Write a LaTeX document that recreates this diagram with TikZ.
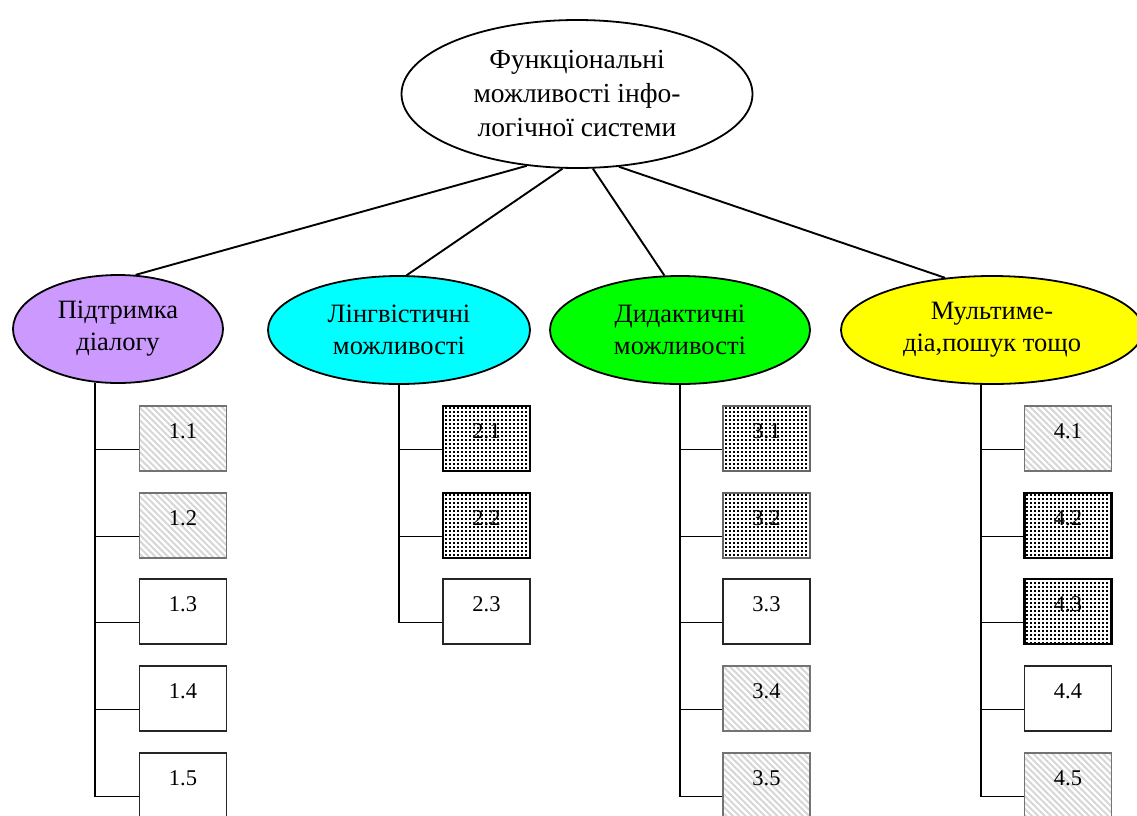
\documentclass[tikz,border=0pt]{standalone}
\usepackage{fontspec}
\setmainfont{Liberation Serif}
\usetikzlibrary{shapes.geometric,patterns.meta}

\definecolor{lilac}{RGB}{204,153,255}
\definecolor{aqua}{RGB}{0,255,255}
\definecolor{lime}{RGB}{0,255,0}
\definecolor{lemon}{RGB}{255,255,0}

% fine grid of square dots for the emphasised leaves
\tikzdeclarepattern{
  name=densedots,
  type=uncolored,
  bottom left={(0pt,0pt)},
  top right={(3.5pt,3.5pt)},
  tile size={(3.5pt,3.5pt)},
  code={\pgfpathrectangle{\pgfpointorigin}{\pgfpoint{2.2pt}{2.2pt}}\pgfusepath{fill}}
}

\begin{document}
\begin{tikzpicture}[x=1pt,y=-1pt,
  conn/.style={line width=1.9pt},
  rootell/.style={ellipse, draw, line width=1.8pt, fill=white,
    minimum width=351pt, minimum height=148pt, inner sep=0pt,
    align=center, font=\fontsize{27.5}{34}\selectfont},
  groupell/.style={ellipse, draw, line width=1.8pt, minimum height=108pt,
    inner sep=0pt, align=center, font=\fontsize{26.5}{32}\selectfont},
  leaf/.style={rectangle, minimum width=87pt, minimum height=65pt,
    inner sep=0pt, text height=0pt, text depth=0pt,
    font=\fontsize{22.5}{22.5}\selectfont},
  plainleaf/.style={leaf, draw=black!85, line width=1.2pt, fill=white},
  stripeleaf/.style={leaf, draw=black!55, line width=1.2pt,
    pattern={Lines[angle=-45,distance=4.5pt,line width=2pt]},
    pattern color=black!16},
  dotleaf/.style={leaf, draw, line width=2.5pt, pattern=densedots},
  thindotleaf/.style={leaf, draw=black!60, line width=1.4pt, pattern=densedots},
]
\useasboundingbox (0,0) rectangle (1137,815);
\clip (0,0) rectangle (1137,815);

% root and the four groups
\node[rootell] (root) at (577,94)
  {Функціональні\\можливості інфо-\\логічної системи};
\node[groupell, fill=lilac, minimum width=210pt] (g1) at (118,329)
  {Підтримка\\діалогу};
\node[groupell, fill=aqua, minimum width=262pt] (g2) at (399,330)
  {Лінгвістичні\\можливості};
\node[groupell, fill=lime, minimum width=260pt] (g3) at (680,330)
  {Дидактичні\\можливості};
\node[groupell, fill=lemon, minimum width=302pt] (g4) at (992,330)
  {Мультиме-\\діа,пошук тощо};

\draw[conn] (root.235) -- (g1.72);
\draw[conn] (root.259) -- (g2.82);
\draw[conn] (root.282) -- (g3.106);
\draw[conn] (root.300) -- (g4.132);

% leaves of group 1
\node[stripeleaf] (b11) at (183,438.5) {1.1};
\node[stripeleaf] (b12) at (183,525.5) {1.2};
\node[plainleaf]  (b13) at (183,611.5) {1.3};
\node[plainleaf]  (b14) at (183,698.5) {1.4};
\node[plainleaf]  (b15) at (183,785.5) {1.5};

% leaves of group 2
\node[dotleaf]    (b21) at (486.5,438.5) {2.1};
\node[dotleaf]    (b22) at (486.5,525.5) {2.2};
\node[plainleaf]  (b23) at (486.5,611.5) {2.3};

% leaves of group 3
\node[thindotleaf] (b31) at (766.5,438.5) {3.1};
\node[thindotleaf] (b32) at (766.5,525.5) {3.2};
\node[plainleaf]   (b33) at (766.5,611.5) {3.3};
\node[stripeleaf]  (b34) at (766.5,698.5) {3.4};
\node[stripeleaf]  (b35) at (766.5,785.5) {3.5};

% leaves of group 4
\node[stripeleaf] (b41) at (1068,438.5) {4.1};
\node[dotleaf]    (b42) at (1068,525.5) {4.2};
\node[dotleaf]    (b43) at (1068,611.5) {4.3};
\node[plainleaf]  (b44) at (1068,698.5) {4.4};
\node[stripeleaf] (b45) at (1068,785.5) {4.5};

% trunks with their side branches
\foreach \g/\anc/\last in {1/247/5, 2/south/3, 3/south/5, 4/259/5} {
  \foreach \k in {1,...,\last} {
    \coordinate (k\g\k) at ([yshift=-11pt]b\g\k.west);
    \draw[conn] (k\g\k) -- (k\g\k -| g\g.\anc);
  }
  \draw[conn] (g\g.\anc) -- (g\g.\anc |- k\g\last);
}
\end{tikzpicture}
\end{document}
